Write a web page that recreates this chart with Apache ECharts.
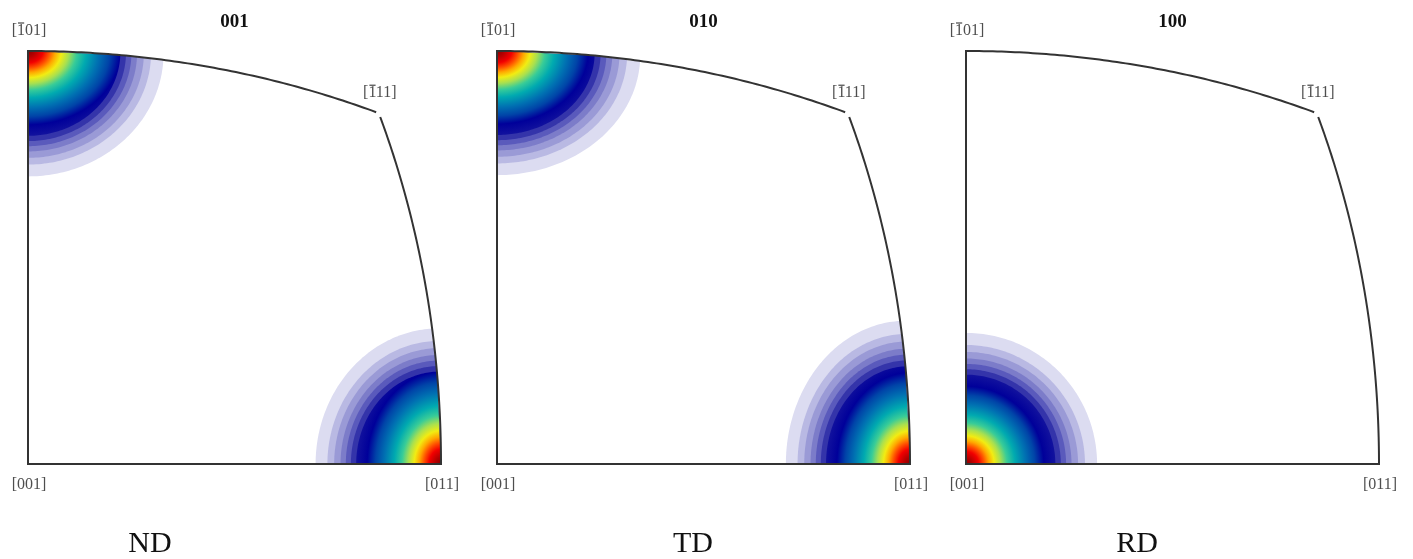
<!DOCTYPE html>
<html>
<head>
<meta charset="utf-8">
<title>Inverse pole figures</title>
<script src="https://cdn.jsdelivr.net/npm/echarts@6/dist/echarts.min.js"></script>
<style>
  html, body { margin: 0; padding: 0; background: #fff; }
  #chart { width: 1413px; height: 559px; }
</style>
</head>
<body>
<div id="chart"></div>
<script>
// one panel per sample direction
const panelTitles = ['001', '010', '100'];
const panelNames = ['ND', 'TD', 'RD'];
// poles carrying the intensity in each panel
const panelPoles = [['-101', '011'], ['-101', '011'], ['001']];
// spot size per panel, radial / tangential factor on bandAngles
const spotScale = [[1.01, 0.955], [1.0, 1.01], [1.0, 1.0]];
// contour edges in degrees from the pole, outermost first (last = smooth core)
const bandAngles = [13.95, 12.66, 11.92, 11.22, 10.64, 10.08, 9.5];
const bandLevels = [1, 2, 3, 4, 5, 6, 7];
// corners of the triangle and their labels (a leading '-' is drawn as a bar)
const cornerNames = ['-101', '-111', '001', '011'];

const poleVec = {
  '001': [0, 0, 1],
  '011': [0, 1, 1],
  '-101': [-1, 0, 1],
  '-111': [-1, 1, 1]
};
// directions of the two triangle edges leaving a pole
const poleEdges = {
  '001': [[0, 1, 0], [-1, 0, 0]],
  '011': [[0, -1, 1], [-1, 0, 0]],
  '-101': [[1, 0, 1], [0, 1, 0]]
};
// the projection stretches the core along the tangential edge
const coreStretch = { '001': 1, '011': 1.25, '-101': 1.25 };

const SERIF = '"Liberation Serif", "DejaVu Serif", serif';
const LABEL_FONT = '16px "Liberation Serif"';
const bandColors = ['#dcdcf1', '#b9b9e3', '#9a9ad6', '#7c7cc9', '#5a5abc', '#3434aa', '#00009a'];
const coreStops = [
  [0, '#8a0000'], [0.065, '#b40000'], [0.14, '#f20000'], [0.2, '#ff5000'],
  [0.255, '#ffa800'], [0.315, '#f2ec12'], [0.385, '#a8e050'], [0.46, '#38cc98'],
  [0.55, '#00aab0'], [0.665, '#0072b2'], [0.77, '#0044a8'], [0.87, '#00009a'],
  [1, '#12129e']
].map(s => ({ offset: s[0], color: s[1] }));

function norm(v) { const l = Math.hypot(v[0], v[1], v[2]); return v.map(c => c / l); }
function dot(a, b) { return a[0] * b[0] + a[1] * b[1] + a[2] * b[2]; }
// equal-area projection, screen right = y, screen up = -x
function project(v) {
  v = norm(v);
  const f = Math.sqrt(2 / (1 + v[2]));
  return [f * v[1], -f * v[0]];
}
function slerp(a, b, t) {
  a = norm(a); b = norm(b);
  const om = Math.acos(dot(a, b)), s = Math.sin(om);
  return a.map((c, i) => (Math.sin((1 - t) * om) * c + Math.sin(t * om) * b[i]) / s);
}
const R = project(poleVec['011'])[0];
const labelText = c => '[' + c.replace('-', '') + ']';

// triangle outline, with a small gap at [-111]
function outline() {
  const pts = [];
  const n = 80;
  const arc = Math.acos(dot(norm(poleVec['-101']), norm(poleVec['-111']))) * 180 / Math.PI;
  const tTop = 1 - 0.28 / arc, tRight = 1 - 0.4 / arc;
  for (let i = n; i >= 0; i--) pts.push(project(slerp(poleVec['-101'], poleVec['-111'], tTop * i / n)));
  pts.push(project(poleVec['001']));
  for (let i = 0; i <= n; i++) pts.push(project(slerp(poleVec['011'], poleVec['-111'], tRight * i / n)));
  return pts;
}

function spotRenderer(panel) {
  return function (params, api) {
    const name = panelPoles[panel][api.value(0)];
    const level = api.value(1);
    const angle = bandAngles[bandLevels.indexOf(level)];
    const p = norm(poleVec[name]);
    const e1 = norm(poleEdges[name][0]), e2 = norm(poleEdges[name][1]);
    const a = angle * spotScale[panel][0], b = angle * spotScale[panel][1];
    const pts = [api.coord(project(p))];
    const n = 72;
    for (let i = 0; i <= n; i++) {
      const al = i / n * Math.PI / 2;
      const rho = a * b / Math.hypot(b * Math.cos(al), a * Math.sin(al)) * Math.PI / 180;
      const d = e1.map((c, j) => Math.cos(al) * c + Math.sin(al) * e2[j]);
      const v = p.map((c, j) => Math.cos(rho) * c + Math.sin(rho) * d[j]);
      pts.push(api.coord(project(v)));
    }
    if (level !== bandLevels[bandLevels.length - 1]) {
      return { type: 'polygon', shape: { points: pts }, style: { fill: api.visual('color') } };
    }
    // smooth core: radial gradient stretched along the tangential edge
    const C = pts[0], P0 = pts[1], P90 = pts[pts.length - 1];
    const er = Math.hypot(P0[0] - C[0], P0[1] - C[1]);
    const k = coreStretch[name];
    const horiz = Math.abs(P90[0] - C[0]) > Math.abs(P90[1] - C[1]);
    const local = pts.map(q => horiz
      ? [C[0] + (q[0] - C[0]) / k, q[1]]
      : [q[0], C[1] + (q[1] - C[1]) / k]);
    return {
      type: 'polygon',
      shape: { points: local },
      originX: C[0], originY: C[1],
      scaleX: horiz ? k : 1, scaleY: horiz ? 1 : k,
      style: { fill: new echarts.graphic.RadialGradient(C[0], C[1], er, coreStops, true) }
    };
  };
}

const chart = echarts.init(document.getElementById('chart'));
const grids = [], xAxes = [], yAxes = [], series = [], graphics = [];
const nameX = [150, 693, 1137];
const labelDy = c => (c === '-101' || c === '-111' ? -20 : 21);
const edge = outline();

panelTitles.forEach((title, i) => {
  const left = 28 + i * 469;
  grids.push({ left: left, top: 51, width: 413, height: 413 });
  xAxes.push({ type: 'value', gridIndex: i, min: 0, max: R, show: false });
  yAxes.push({ type: 'value', gridIndex: i, min: 0, max: R, show: false });

  const spotData = [];
  panelPoles[i].forEach((pole, pi) => bandLevels.forEach(l => spotData.push([pi, l])));
  series.push({
    type: 'custom',
    xAxisIndex: i, yAxisIndex: i,
    renderItem: spotRenderer(i),
    data: spotData,
    silent: true
  });
  series.push({
    type: 'line',
    xAxisIndex: i, yAxisIndex: i,
    data: edge,
    showSymbol: false,
    lineStyle: { color: '#333333', width: 2, join: 'miter' },
    silent: true,
    z: 5
  });
  series.push({
    type: 'scatter',
    xAxisIndex: i, yAxisIndex: i,
    symbolSize: 1,
    itemStyle: { color: 'rgba(0,0,0,0)' },
    data: cornerNames.map(c => ({
      value: project(poleVec[c]),
      name: labelText(c),
      label: { offset: [1, labelDy(c)] }
    })),
    label: {
      show: true,
      position: 'inside',
      formatter: '{b}',
      color: '#222',
      fontFamily: SERIF,
      fontSize: 16
    },
    silent: true,
    z: 6
  });

  graphics.push({
    type: 'text', x: left + 206.5, y: 22,
    style: { text: title, align: 'center', verticalAlign: 'middle', font: 'bold 19px ' + SERIF, fill: '#111' }
  });
  graphics.push({
    type: 'text', x: nameX[i], y: 544,
    style: { text: panelNames[i], align: 'center', verticalAlign: 'middle', font: '30px ' + SERIF, fill: '#111' }
  });
});

chart.setOption({
  animation: false,
  grid: grids,
  xAxis: xAxes,
  yAxis: yAxes,
  visualMap: {
    type: 'piecewise',
    show: false,
    dimension: 1,
    seriesIndex: [0, 3, 6],
    pieces: bandLevels.map((l, i) => ({ value: l, color: bandColors[i] }))
  },
  series: series,
  graphic: graphics
});

// bars over the negative indices of the corner labels
const ctx = document.createElement('canvas').getContext('2d');
ctx.font = LABEL_FONT;
const bars = [];
panelTitles.forEach((t, i) => {
  cornerNames.filter(c => c.startsWith('-')).forEach(c => {
    const px = chart.convertToPixel({ gridIndex: i }, project(poleVec[c]));
    const text = labelText(c);
    const x0 = px[0] + 1 - ctx.measureText(text).width / 2;
    const y = px[1] + labelDy(c) - 8;
    bars.push({
      type: 'line',
      shape: { x1: x0 + ctx.measureText('[').width + 1, y1: y, x2: x0 + ctx.measureText('[1').width - 0.8, y2: y },
      style: { stroke: '#222', lineWidth: 1 },
      z: 10
    });
  });
});
chart.setOption({ graphic: graphics.concat(bars) });
</script>
</body>
</html>
